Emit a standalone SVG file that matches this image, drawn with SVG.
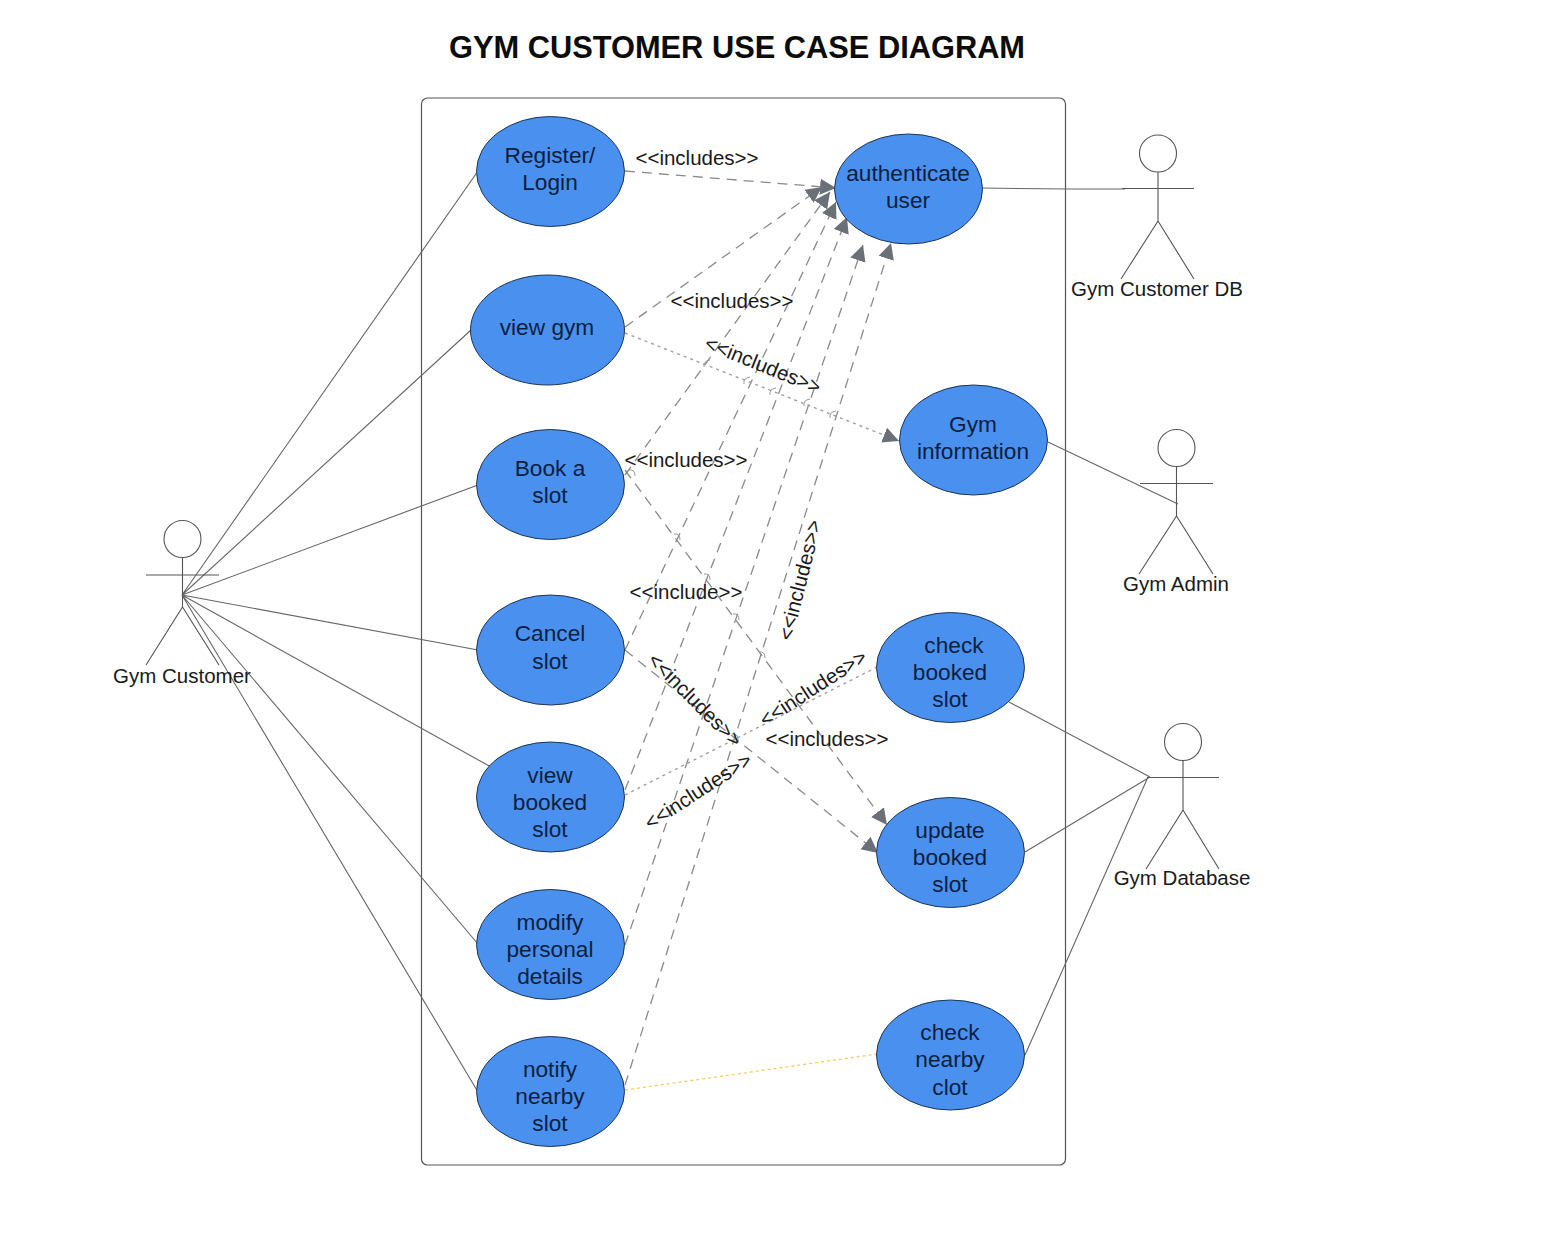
<svg xmlns="http://www.w3.org/2000/svg" width="1560" height="1246" viewBox="0 0 1560 1246">
<style>
text{font-family:"Liberation Sans",Arial,sans-serif;fill:#1a1a1a;text-anchor:middle}
.t{font-size:30.8px;font-weight:bold;fill:#0c0c0c}
.u{font-size:22.7px;fill:#0d1f3f}
.l{font-size:20.5px}
.a{font-size:20.5px}
.uc{fill:#4a90ef;stroke:#1c3558;stroke-width:1}
.assoc{fill:none;stroke:#666;stroke-width:1.1}
.actor{fill:none;stroke:#555;stroke-width:1.1}
.dash{fill:none;stroke:#8a8a8a;stroke-width:1.3;stroke-dasharray:10 7}
.dot{fill:none;stroke:#a0a0a0;stroke-width:1.4;stroke-dasharray:3 4}
.hop{fill:none;stroke:#999;stroke-width:1}
.arr{marker-end:url(#tri)}
</style>
<defs>
<marker id="tri" markerUnits="userSpaceOnUse" markerWidth="18" markerHeight="18" refX="16" refY="8" orient="auto"><path d="M0 0L16 8L0 16Z" fill="#6b7078"/></marker>
</defs>
<rect width="1560" height="1246" fill="#fff"/>
<text class="t" x="737" y="58">GYM CUSTOMER USE CASE DIAGRAM</text>
<rect id="boundary" x="421.500" y="98" width="644" height="1067" rx="6" fill="none" stroke="#555" stroke-width="1.2"/>
<g id="connectors">
<path class="assoc" d="M182 595L478 171M182 595L471 330M182 595L478 485M182 595L478 650M182 595L491 767M182 595L478 944M182 595L478 1092"/>
<path class="assoc" d="M982 188Q1050 189 1125 189M1048 442L1178 504M1009 702L1150 777M1025 852L1150 777M1025 1055L1148 777"/>
<path class="dash arr" d="M625 171L836 188"/>
<path class="dash arr" d="M625 327L822 187"/>
<path class="dash arr" d="M625 475L830 192"/>
<path class="dash arr" d="M625 650L836 202"/>
<path class="dash arr" d="M625 790L847 217"/>
<path class="dash arr" d="M625 945L863 245"/>
<path class="dash arr" d="M625 1085L891 243"/>
<path class="dash arr" d="M625 470L887 825"/>
<path class="dash arr" d="M625 650L878 853"/>
<path class="dot arr" d="M625 333L899 441"/>
<path class="dot" d="M625 795L877 667"/>
<path d="M625 1090L877 1054" fill="none" stroke="#f0d060" stroke-width="1.3" stroke-dasharray="3 3"/>
<path class="hop" d="M704 367q-1 -6 6 -7M744 384q-1 -6 6 -7M770 395q-1 -6 6 -7M804 406q-1 -6 6 -7M830 418q-1 -6 6 -7M629 470q6 -1 6 6M674 534q6 -1 6 6M704 574q6 -1 6 6M733 614q6 -1 6 6M759 652q6 -1 6 6M732 734q6 -1 6 6"/>
</g>
<g id="uc-register"><ellipse class="uc" cx="550.500" cy="171.500" rx="74" ry="55"/><text class="u"><tspan x="550" y="163">Register/</tspan><tspan x="550" y="190">Login</tspan></text></g>
<g id="uc-viewgym"><ellipse class="uc" cx="547.500" cy="330" rx="77" ry="55"/><text class="u" x="547" y="335">view gym</text></g>
<g id="uc-book"><ellipse class="uc" cx="550.500" cy="484.500" rx="74" ry="55"/><text class="u"><tspan x="550" y="476">Book a</tspan><tspan x="550" y="503">slot</tspan></text></g>
<g id="uc-cancel"><ellipse class="uc" cx="550.500" cy="650" rx="74" ry="55"/><text class="u"><tspan x="550" y="641">Cancel</tspan><tspan x="550" y="669">slot</tspan></text></g>
<g id="uc-viewbooked"><ellipse class="uc" cx="550.500" cy="797" rx="74" ry="55"/><text class="u"><tspan x="550" y="783">view</tspan><tspan x="550" y="810">booked</tspan><tspan x="550" y="837">slot</tspan></text></g>
<g id="uc-modify"><ellipse class="uc" cx="550.500" cy="944.500" rx="74" ry="55"/><text class="u"><tspan x="550" y="930">modify</tspan><tspan x="550" y="957">personal</tspan><tspan x="550" y="984">details</tspan></text></g>
<g id="uc-notify"><ellipse class="uc" cx="550.500" cy="1091.500" rx="74" ry="55"/><text class="u"><tspan x="550" y="1077">notify</tspan><tspan x="550" y="1104">nearby</tspan><tspan x="550" y="1131">slot</tspan></text></g>
<g id="uc-auth"><ellipse class="uc" cx="908.500" cy="189" rx="74" ry="55"/><text class="u"><tspan x="908" y="181">authenticate</tspan><tspan x="908" y="208">user</tspan></text></g>
<g id="uc-info"><ellipse class="uc" cx="973.500" cy="440" rx="74" ry="55"/><text class="u"><tspan x="973" y="432">Gym</tspan><tspan x="973" y="459">information</tspan></text></g>
<g id="uc-check"><ellipse class="uc" cx="950.500" cy="667.500" rx="74" ry="55"/><text class="u"><tspan x="954" y="653">check</tspan><tspan x="950" y="680">booked</tspan><tspan x="950" y="707">slot</tspan></text></g>
<g id="uc-update"><ellipse class="uc" cx="950.500" cy="852.500" rx="74" ry="55"/><text class="u"><tspan x="950" y="838">update</tspan><tspan x="950" y="865">booked</tspan><tspan x="950" y="892">slot</tspan></text></g>
<g id="uc-nearby"><ellipse class="uc" cx="950.500" cy="1055" rx="74" ry="55"/><text class="u"><tspan x="950" y="1040">check</tspan><tspan x="950" y="1067">nearby</tspan><tspan x="950" y="1095">clot</tspan></text></g>
<g id="edge-labels">
<text class="l" x="697" y="165">&lt;&lt;includes&gt;&gt;</text>
<text class="l" x="732" y="308">&lt;&lt;includes&gt;&gt;</text>
<text class="l" x="763" y="372" transform="rotate(22 763 365)">&lt;&lt;includes&gt;&gt;</text>
<text class="l" x="686" y="467">&lt;&lt;includes&gt;&gt;</text>
<text class="l" x="686" y="599">&lt;&lt;include&gt;&gt;</text>
<text class="l" x="800" y="587" transform="rotate(-76 800 580)">&lt;&lt;includes&gt;&gt;</text>
<text class="l" x="695" y="707" transform="rotate(45 695 700)">&lt;&lt;includes&gt;&gt;</text>
<text class="l" x="813" y="695" transform="rotate(-33 813 688)">&lt;&lt;includes&gt;&gt;</text>
<text class="l" x="827" y="746">&lt;&lt;includes&gt;&gt;</text>
<text class="l" x="698" y="798" transform="rotate(-33 698 791)">&lt;&lt;includes&gt;&gt;</text>
</g>
<g id="actor-customer"><g class="actor"><circle cx="182.500" cy="539" r="18.500"/><path d="M182.500 558V607M146 575H219M182.500 607L146 665M182.500 607L219 665"/></g><text class="a" x="182" y="683">Gym Customer</text></g>
<g id="actor-customerdb"><g class="actor"><circle cx="1158" cy="153.500" r="18.500"/><path d="M1158 172V221M1122 188.500H1194M1158 221L1121 279M1158 221L1194 279"/></g><text class="a" x="1157" y="296">Gym Customer DB</text></g>
<g id="actor-admin"><g class="actor"><circle cx="1176.500" cy="448" r="18.500"/><path d="M1176.500 466V516M1140 483.500H1213M1176.500 516L1139 574M1176.500 516L1213 574"/></g><text class="a" x="1176" y="591">Gym Admin</text></g>
<g id="actor-database"><g class="actor"><circle cx="1183" cy="742" r="18.500"/><path d="M1183 760V810M1147 777.500H1219M1183 810L1146 869M1183 810L1219 869"/></g><text class="a" x="1182" y="885">Gym Database</text></g>
</svg>
